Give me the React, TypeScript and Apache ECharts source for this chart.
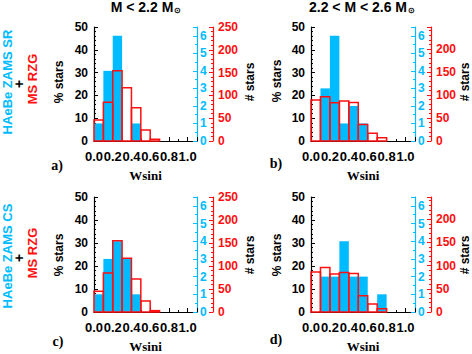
import React, { useEffect, useRef } from "react";
import * as echarts from "echarts";

// ---------------- data ----------------
const binWidth = 0.1;
const binStarts = [0.0, 0.1, 0.2, 0.3, 0.4, 0.5, 0.6, 0.7, 0.8, 0.9, 1.0];
const xTickLabels = ["0.0", "0.2", "0.4", "0.6", "0.8", "1.0"];

// HAeBe counts (cyan axis, # stars)
const haebeSR_low = [1, 4, 6, 0, 1, 0, 0, 0, 0, 0, 0];
const haebeSR_high = [0, 3, 6, 1, 2, 1, 0, 0, 0, 0, 0];
const haebeCS_low = [1, 3, 4, 3, 1, 0, 0, 0, 0, 0, 0];
const haebeCS_high = [0, 2, 2, 4, 2, 2, 0, 1, 0, 0, 0];

// MS RZG counts (red axis, # stars)
const msRZG_a = [46, 85, 154, 117, 73, 24, 4, 0, 0, 0, 0];
const msRZG_b = [89, 96, 83, 87, 84, 36, 17, 7, 0, 0, 0];
const msRZG_c = [45, 85, 155, 117, 72, 24, 3, 0, 0, 0, 0];
const msRZG_d = [86, 96, 82, 85, 83, 35, 17, 7, 0, 0, 0];

const pctMax = 50;
const cyanMax = 6.5;
const redMaxLow = 250;
const redMaxHigh = 248;

const titles = ["M < 2.2 M{s|⊙}", "2.2 < M < 2.6 M{s|⊙}"];
const panelLetters = ["a)", "b)", "c)", "d)"];
const rowCyanLabels = ["HAeBe ZAMS SR", "HAeBe ZAMS CS"];
const rowRedLabel = "MS RZG";

// ---------------- styling ----------------
const CYAN = "#00BBFF";
const RED = "#FF1010";
const SANS = "'Liberation Sans', Arial, sans-serif";
const SERIF = "'Liberation Serif', 'Times New Roman', serif";

type Panel = {
  grid: { left: number; top: number; width: number; height: number };
  cyan: number[];
  red: number[];
  redMax: number;
};

const panels: Panel[] = [
  { grid: { left: 94, top: 27, width: 103, height: 114 }, cyan: haebeSR_low, red: msRZG_a, redMax: redMaxLow },
  { grid: { left: 311, top: 27, width: 104, height: 114 }, cyan: haebeSR_high, red: msRZG_b, redMax: redMaxHigh },
  { grid: { left: 94, top: 197, width: 103, height: 121 }, cyan: haebeCS_low, red: msRZG_c, redMax: redMaxLow },
  { grid: { left: 311, top: 197, width: 104, height: 121 }, cyan: haebeCS_high, red: msRZG_d, redMax: redMaxHigh },
];

function isMultiple(v: number, step: number) {
  const r = v / step;
  return Math.abs(r - Math.round(r)) < 1e-6;
}

function buildOption() {
  const grid: any[] = [];
  const xAxis: any[] = [];
  const yAxis: any[] = [];
  const series: any[] = [];

  panels.forEach((p, i) => {
    grid.push({ ...p.grid, show: false, containLabel: false });
    xAxis.push({
      type: "value",
      gridIndex: i,
      min: 0,
      max: 1.1,
      interval: 0.2,
      axisLine: { show: true, onZero: false, lineStyle: { color: "#000", width: 1.2 } },
      axisTick: { show: true, inside: true, length: 4, lineStyle: { color: "#000" } },
      minorTick: { show: true, splitNumber: 2, length: 2, lineStyle: { color: "#000" } },
      splitLine: { show: false },
      axisLabel: {
        show: true,
        margin: 9,
        color: "#000",
        fontFamily: SANS,
        fontWeight: "bold",
        fontSize: 13,
        formatter: (v: number) => {
          if (!isMultiple(v, 0.2)) return "";
          const idx = Math.round(v / 0.2);
          return xTickLabels[idx] ?? "";
        },
      },
      name: "Wsini",
      nameLocation: "middle",
      nameGap: 28,
      nameTextStyle: { color: "#000", fontFamily: SERIF, fontWeight: "bold", fontSize: 13 },
    });
    // left % axis
    yAxis.push({
      type: "value",
      gridIndex: i,
      position: "left",
      min: 0,
      max: pctMax,
      interval: 10,
      axisLine: { show: true, lineStyle: { color: "#000", width: 1.2 } },
      axisTick: { show: true, inside: true, length: 4, lineStyle: { color: "#000" } },
      minorTick: { show: true, splitNumber: 5, length: 2, lineStyle: { color: "#000" } },
      splitLine: { show: false },
      axisLabel: { margin: 6, color: "#000", fontFamily: SANS, fontWeight: "bold", fontSize: 12 },
    });
    // cyan # axis
    yAxis.push({
      type: "value",
      gridIndex: i,
      position: "right",
      offset: 0,
      min: 0,
      max: cyanMax,
      interval: 1,
      axisLine: { show: true, lineStyle: { color: CYAN, width: 1.2 } },
      axisTick: { show: true, inside: true, length: 4, lineStyle: { color: CYAN } },
      minorTick: { show: true, splitNumber: 2, length: 2, lineStyle: { color: CYAN } },
      splitLine: { show: false },
      axisLabel: {
        margin: 3,
        color: CYAN,
        fontFamily: SANS,
        fontWeight: "bold",
        fontSize: 12,
        formatter: (v: number) => (isMultiple(v, 1) ? String(Math.round(v)) : ""),
      },
    });
    // red # axis
    yAxis.push({
      type: "value",
      gridIndex: i,
      position: "right",
      offset: 16,
      min: 0,
      max: p.redMax,
      interval: 50,
      axisLine: { show: true, lineStyle: { color: RED, width: 1.2 } },
      axisTick: { show: true, inside: true, length: 4, lineStyle: { color: RED } },
      minorTick: { show: true, splitNumber: 5, length: 2, lineStyle: { color: RED } },
      splitLine: { show: false },
      axisLabel: {
        margin: 5,
        color: RED,
        fontFamily: SANS,
        fontWeight: "bold",
        fontSize: 12,
        formatter: (v: number) => (isMultiple(v, 50) ? String(Math.round(v)) : ""),
      },
    });

    const cyanData = binStarts.map((x, k) => [x, p.cyan[k]]);
    const redData = binStarts.map((x, k) => [x, p.red[k]]);

    series.push({
      type: "custom",
      name: "HAeBe",
      xAxisIndex: i,
      yAxisIndex: 3 * i + 1,
      data: cyanData,
      clip: false,
      renderItem: (params: any, api: any) => {
        const x0 = api.value(0);
        const v = api.value(1);
        if (!v) return null;
        const p0 = api.coord([x0, 0]);
        const p1 = api.coord([x0 + binWidth, v]);
        return {
          type: "rect",
          shape: { x: p0[0], y: p1[1], width: p1[0] - p0[0], height: p0[1] - p1[1] },
          style: { fill: CYAN, stroke: null },
        };
      },
      z: 2,
    });
    series.push({
      type: "custom",
      name: "MS RZG",
      xAxisIndex: i,
      yAxisIndex: 3 * i + 2,
      data: redData,
      clip: false,
      renderItem: (params: any, api: any) => {
        const x0 = api.value(0);
        const v = api.value(1);
        if (!v) return null;
        const p0 = api.coord([x0, 0]);
        const p1 = api.coord([x0 + binWidth, v]);
        return {
          type: "rect",
          shape: { x: p0[0], y: p1[1], width: p1[0] - p0[0], height: p0[1] - p1[1] },
          style: { fill: "none", stroke: RED, lineWidth: 1.5 },
        };
      },
      z: 3,
    });
  });

  const graphic: any[] = [];
  const richSub = { s: { fontSize: 8, fontFamily: SANS, fontWeight: "bold", fill: "#000", verticalAlign: "bottom", padding: [5, 0, 0, 1] } };
  // titles
  graphic.push({
    type: "text", x: 146, y: 7,
    style: { text: titles[0], fill: "#000", font: `bold 14px ${SANS}`, align: "center", verticalAlign: "middle", rich: richSub },
  });
  graphic.push({
    type: "text", x: 362, y: 7,
    style: { text: titles[1], fill: "#000", font: `bold 14px ${SANS}`, align: "center", verticalAlign: "middle", rich: richSub },
  });

  // panel letters
  const letterPos = [[57, 165], [276, 163], [58, 341], [276, 339]];
  letterPos.forEach((pos, k) => {
    graphic.push({
      type: "text", x: pos[0], y: pos[1],
      style: { text: panelLetters[k], fill: "#000", font: `bold 14px ${SERIF}`, align: "center", verticalAlign: "middle" },
    });
  });

  // % stars and # stars
  const pctPos = [[59, 82], [277, 81], [59, 255], [277, 255]];
  const numPos = [[250, 82], [465, 82], [250, 255], [465, 255]];
  pctPos.forEach((pos) => {
    graphic.push({
      type: "text", x: pos[0], y: pos[1], rotation: Math.PI / 2,
      style: { text: "% stars", fill: "#000", font: `bold 12px ${SANS}`, align: "center", verticalAlign: "middle" },
    });
  });
  numPos.forEach((pos) => {
    graphic.push({
      type: "text", x: pos[0], y: pos[1], rotation: Math.PI / 2,
      style: { text: "# stars", fill: "#000", font: `bold 12px ${SANS}`, align: "center", verticalAlign: "middle" },
    });
  });

  // row labels
  const rowY = [82, 256];
  rowY.forEach((yc, r) => {
    graphic.push({
      type: "text", x: 7, y: yc, rotation: Math.PI / 2,
      style: { text: rowCyanLabels[r], fill: CYAN, font: `bold 13px ${SANS}`, align: "center", verticalAlign: "middle" },
    });
    graphic.push({
      type: "text", x: 19, y: yc + 2, rotation: Math.PI / 2,
      style: { text: "+", fill: "#000", font: `bold 14px ${SANS}`, align: "center", verticalAlign: "middle" },
    });
    graphic.push({
      type: "text", x: 32, y: yc - 3, rotation: Math.PI / 2,
      style: { text: rowRedLabel, fill: RED, font: `bold 13px ${SANS}`, align: "center", verticalAlign: "middle" },
    });
  });

  return {
    animation: false,
    backgroundColor: "#fff",
    grid,
    xAxis,
    yAxis,
    series,
    graphic,
  };
}

export default function App() {
  const ref = useRef<HTMLDivElement>(null);
  useEffect(() => {
    if (!ref.current) return;
    const chart = echarts.init(ref.current, undefined, { renderer: "svg" });
    chart.setOption(buildOption() as any);
    return () => chart.dispose();
  }, []);
  return (
    <div
      ref={ref}
      style={{ position: "fixed", left: 0, top: 0, width: 472, height: 354, background: "#fff" }}
    />
  );
}
